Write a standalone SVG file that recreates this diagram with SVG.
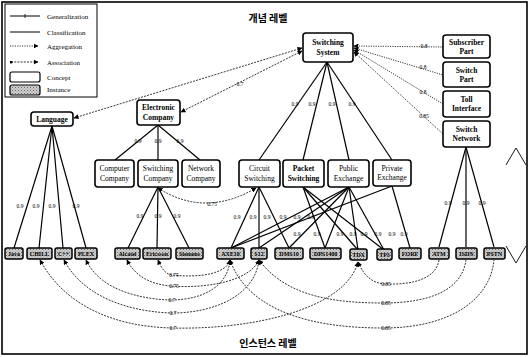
<svg xmlns="http://www.w3.org/2000/svg" width="529" height="357" viewBox="0 0 529 357">
  <defs>
    <pattern id="stipple" width="3" height="3" patternUnits="userSpaceOnUse">
      <rect width="3" height="3" fill="#d0d0d0"/>
      <rect x="0" y="0" width="1" height="1" fill="#666"/>
      <rect x="1.5" y="1.5" width="1" height="1" fill="#888"/>
    </pattern>
    <marker id="arr" viewBox="0 0 10 10" refX="9" refY="5" markerWidth="5" markerHeight="5" orient="auto-start-reverse" markerUnits="userSpaceOnUse">
      <path d="M0,0 L10,5 L0,10 z" fill="#000"/>
    </marker>
    <marker id="dot" viewBox="0 0 10 10" refX="5" refY="5" markerWidth="3" markerHeight="3" markerUnits="userSpaceOnUse">
      <circle cx="5" cy="5" r="5" fill="#000"/>
    </marker>
  </defs>
  <style>
    .frame { fill: none; stroke: #000; stroke-width: 1.6; }
    .concept rect { fill: #fff; stroke: #000; stroke-width: 1.6; }
    .inst rect { fill: url(#stipple); stroke: #000; stroke-width: 1.5; }
    text { font-family: "Liberation Serif", "Times New Roman", serif; fill: #000; text-anchor: middle; }
    .cb { font-size: 7.5px; font-weight: bold; }
    .cr { font-size: 7.5px; }
    .it { font-size: 6px; font-weight: bold; }
    .w { font-size: 5.5px; fill: #000; }
    .lg { font-size: 7px; text-anchor: start; }
    .kr { font-family: "Noto Sans CJK KR", sans-serif; font-size: 10px; font-weight: bold; }
    .gen, .cls { fill: none; stroke: #000; stroke-width: 1.2; }
    .asc { fill: none; stroke: #000; stroke-width: 0.8; stroke-dasharray: 2 1.2; }
    .agg { fill: none; stroke: #000; stroke-width: 0.8; stroke-dasharray: 1.2 1.2; }
  </style>

  <!-- outer frame -->
  <rect class="frame" x="2" y="2" width="525" height="352"/>

  <!-- legend -->
  <g id="legend">
    <rect x="5" y="4" width="92" height="93" fill="#fff" stroke="#000" stroke-width="1"/>
    <line x1="10" y1="16" x2="40" y2="16" stroke="#000" stroke-width="1"/>
    <line x1="25" y1="14" x2="25" y2="18" stroke="#000" stroke-width="0.8"/>
    <text class="lg" x="47" y="18.5">Generalization</text>
    <line x1="10" y1="32" x2="40" y2="32" stroke="#000" stroke-width="1"/>
    <text class="lg" x="47" y="34.5">Classification</text>
    <line x1="10" y1="46" x2="38" y2="46" class="agg" marker-end="url(#arr)"/>
    <text class="lg" x="47" y="48.5">Aggregation</text>
    <line x1="11" y1="62" x2="38" y2="62" class="asc" marker-start="url(#dot)" marker-end="url(#arr)"/>
    <text class="lg" x="47" y="64.5">Association</text>
    <rect x="10" y="72" width="30" height="10" rx="2" fill="#fff" stroke="#000" stroke-width="1.2"/>
    <text class="lg" x="47" y="79.5">Concept</text>
    <rect x="10" y="85" width="30" height="10" rx="2" fill="url(#stipple)" stroke="#000" stroke-width="1.2"/>
    <text class="lg" x="47" y="92">Instance</text>
  </g>

  <!-- level captions -->
  <text class="kr" x="268" y="22">개념 레벨</text>
  <text class="kr" x="268" y="347">인스턴스 레벨</text>
  <polyline points="506,165 516,148 526,165" fill="none" stroke="#000" stroke-width="0.9"/>
  <polyline points="506,246 516,263 526,246" fill="none" stroke="#000" stroke-width="0.9"/>

  <!-- connectors -->
  <g id="connectors">
    <!-- generalization: concept hierarchy -->
    <g class="gen">
      <line x1="52" y1="126" x2="14" y2="248"/>
      <line x1="52" y1="126" x2="39" y2="248"/>
      <line x1="52" y1="126" x2="63" y2="248"/>
      <line x1="52" y1="126" x2="86" y2="248"/>
      <line x1="158" y1="125" x2="115" y2="160"/>
      <line x1="158" y1="125" x2="158" y2="160"/>
      <line x1="158" y1="125" x2="200" y2="160"/>
      <line x1="327" y1="62" x2="259" y2="160"/>
      <line x1="327" y1="62" x2="303" y2="160"/>
      <line x1="327" y1="62" x2="349" y2="160"/>
      <line x1="327" y1="62" x2="392" y2="160"/>
    </g>
    <!-- classification: concept to instance -->
    <g class="cls">
      <line x1="158" y1="187" x2="128" y2="248"/>
      <line x1="158" y1="187" x2="157" y2="248"/>
      <line x1="158" y1="187" x2="189" y2="248"/>
      <line x1="259" y1="187" x2="231" y2="248"/>
      <line x1="259" y1="187" x2="259" y2="248"/>
      <line x1="259" y1="187" x2="289" y2="248"/>
      <line x1="349" y1="187" x2="231" y2="248"/>
      <line x1="349" y1="187" x2="259" y2="248"/>
      <line x1="392" y1="186" x2="231" y2="248"/>
      <line x1="349" y1="187" x2="289" y2="248"/>
      <line x1="303" y1="187" x2="325" y2="248"/>
      <line x1="349" y1="187" x2="325" y2="248"/>
      <line x1="303" y1="187" x2="358" y2="250"/>
      <line x1="349" y1="187" x2="358" y2="250"/>
      <line x1="303" y1="187" x2="384" y2="250"/>
      <line x1="349" y1="187" x2="384" y2="250"/>
      <line x1="392" y1="186" x2="410" y2="248"/>
      <line x1="466" y1="147" x2="439" y2="247"/>
      <line x1="466" y1="147" x2="466" y2="247"/>
      <line x1="466" y1="147" x2="494" y2="247"/>
    </g>
    <!-- association links -->
    <line class="asc" x1="302" y1="48" x2="74" y2="118" marker-start="url(#arr)" marker-end="url(#arr)"/>
    <line class="asc" x1="302" y1="51" x2="181" y2="112" marker-start="url(#arr)" marker-end="url(#arr)"/>
    <path class="asc" d="M158,188 Q205,218 256,188" marker-start="url(#arr)" marker-end="url(#arr)"/>
    <!-- aggregation: parts of the switching system -->
    <line class="agg" x1="354" y1="46" x2="443" y2="47" marker-start="url(#arr)"/>
    <line class="agg" x1="354" y1="48" x2="443" y2="75" marker-start="url(#arr)"/>
    <line class="agg" x1="354" y1="50" x2="443" y2="104" marker-start="url(#arr)"/>
    <line class="agg" x1="354" y1="52" x2="443" y2="134" marker-start="url(#arr)"/>
    <!-- instance-level associations -->
    <path class="asc" d="M158,260 C162,270 166,274 172,275 C200,278 226,274 230,260" marker-start="url(#arr)" marker-end="url(#arr)"/>
    <path class="asc" d="M127,260 C135,276 150,284 170,286 C210,289 250,280 259,260" marker-start="url(#arr)" marker-end="url(#arr)"/>
    <path class="asc" d="M86,260 C100,290 140,299 170,300 C205,300 228,285 230,260" marker-start="url(#arr)" marker-end="url(#arr)"/>
    <path class="asc" d="M64,260 C85,300 135,312 172,313 C215,313 255,295 259,260" marker-start="url(#arr)" marker-end="url(#arr)"/>
    <path class="asc" d="M40,260 C70,315 130,327 172,328 C250,330 345,310 358,262" marker-start="url(#arr)" marker-end="url(#arr)"/>
    <path class="asc" d="M230,260 C250,315 320,328 383,328 C450,328 490,300 494,260" marker-start="url(#arr)"/>
    <path class="asc" d="M259,260 C285,295 330,303 383,303 C430,303 462,290 466,260" marker-start="url(#arr)"/>
    <path class="asc" d="M358,262 C364,276 372,283 385,284 C415,285 436,278 439,260" marker-start="url(#arr)"/>
  </g>

  <!-- weight labels -->
  <g id="weights" class="w">
    <text x="240" y="86">0.7</text>
    <text x="424" y="48">0.8</text>
    <text x="423" y="69">0.8</text>
    <text x="423" y="94">0.8</text>
    <text x="424" y="118">0.85</text>
    <text x="138" y="143">0.9</text>
    <text x="158" y="143">0.9</text>
    <text x="180" y="143">0.9</text>
    <text x="295" y="106">0.9</text>
    <text x="312" y="106">0.9</text>
    <text x="332" y="106">0.9</text>
    <text x="352" y="106">0.9</text>
    <text x="20" y="208">0.9</text>
    <text x="36" y="208">0.9</text>
    <text x="52" y="208">0.9</text>
    <text x="76" y="208">0.9</text>
    <text x="140" y="218">0.9</text>
    <text x="158" y="218">0.9</text>
    <text x="177" y="218">0.9</text>
    <text x="212" y="206">0.75</text>
    <text x="237" y="219">0.9</text>
    <text x="253" y="219">0.9</text>
    <text x="267" y="219">0.9</text>
    <text x="283" y="219">0.9</text>
    <text x="297" y="219">0.9</text>
    <text x="311" y="219">0.9</text>
    <text x="297" y="236">0.9</text>
    <text x="317" y="236">0.9</text>
    <text x="340" y="236">0.9</text>
    <text x="353" y="236">0.9</text>
    <text x="364" y="236">0.9</text>
    <text x="378" y="236">0.9</text>
    <text x="392" y="236">0.9</text>
    <text x="404" y="236">0.9</text>
    <text x="448" y="205">0.9</text>
    <text x="466" y="205">0.9</text>
    <text x="482" y="205">0.9</text>
    <text x="174" y="277">0.75</text>
    <text x="174" y="288">0.75</text>
    <text x="172" y="302">0.7</text>
    <text x="173" y="315">0.7</text>
    <text x="173" y="330">0.7</text>
    <text x="386" y="286">0.85</text>
    <text x="386" y="305">0.85</text>
    <text x="386" y="330">0.85</text>
  </g>

  <!-- concept nodes -->
  <g id="switching-system" class="concept"><rect x="303" y="33" width="50" height="29" rx="3"/><text class="cb" x="328" y="45">Switching</text><text class="cb" x="328" y="55">System</text></g>
  <g id="subscriber-part" class="concept"><rect x="443" y="35" width="47" height="23" rx="3"/><text class="cb" x="466.5" y="45">Subscriber</text><text class="cb" x="466.5" y="54">Part</text></g>
  <g id="switch-part" class="concept"><rect x="443" y="62" width="47" height="25" rx="3"/><text class="cb" x="466.5" y="73">Switch</text><text class="cb" x="466.5" y="82">Part</text></g>
  <g id="toll-interface" class="concept"><rect x="443" y="91" width="47" height="26" rx="3"/><text class="cb" x="466.5" y="102">Toll</text><text class="cb" x="466.5" y="111">Interface</text></g>
  <g id="switch-network" class="concept"><rect x="443" y="121" width="47" height="26" rx="3"/><text class="cb" x="466.5" y="132">Switch</text><text class="cb" x="466.5" y="141">Network</text></g>
  <g id="language" class="concept"><rect x="31" y="112" width="42" height="14" rx="3"/><text class="cb" x="52" y="122">Language</text></g>
  <g id="electronic-company" class="concept"><rect x="137" y="100" width="43" height="25" rx="3"/><text class="cb" x="158.5" y="110">Electronic</text><text class="cb" x="158.5" y="120">Company</text></g>
  <g id="computer-company" class="concept"><rect x="95" y="160" width="39" height="27" rx="3"/><text class="cr" x="114.5" y="171">Computer</text><text class="cr" x="114.5" y="181">Company</text></g>
  <g id="switching-company" class="concept"><rect x="138" y="160" width="40" height="27" rx="3"/><text class="cr" x="158" y="171">Switching</text><text class="cr" x="158" y="181">Company</text></g>
  <g id="network-company" class="concept"><rect x="182" y="160" width="38" height="27" rx="3"/><text class="cr" x="201" y="171">Network</text><text class="cr" x="201" y="181">Company</text></g>
  <g id="circuit-switching" class="concept"><rect x="239" y="160" width="41" height="27" rx="3"/><text class="cr" x="259.5" y="171">Circuit</text><text class="cr" x="259.5" y="181">Switching</text></g>
  <g id="packet-switching" class="concept"><rect x="283" y="160" width="41" height="27" rx="3"/><text class="cb" x="303.5" y="171">Packet</text><text class="cb" x="303.5" y="181">Switching</text></g>
  <g id="public-exchange" class="concept"><rect x="328" y="160" width="41" height="27" rx="3"/><text class="cr" x="348.5" y="171">Public</text><text class="cr" x="348.5" y="181">Exchange</text></g>
  <g id="private-exchange" class="concept"><rect x="373" y="160" width="38" height="26" rx="3"/><text class="cr" x="392" y="171">Private</text><text class="cr" x="392" y="180">Exchange</text></g>

  <!-- instance nodes -->
  <g id="java" class="inst"><rect x="5" y="248" width="18" height="11" rx="2"/><text class="it" x="14" y="256">Java</text></g>
  <g id="chill" class="inst"><rect x="27" y="248" width="25" height="11" rx="2"/><text class="it" x="39.5" y="256">CHILL</text></g>
  <g id="cpp" class="inst"><rect x="55" y="248" width="17" height="11" rx="2"/><text class="it" x="63.5" y="256">C++</text></g>
  <g id="plex" class="inst"><rect x="75" y="248" width="22" height="11" rx="2"/><text class="it" x="86" y="256">PLEX</text></g>
  <g id="alcatel" class="inst"><rect x="115" y="248" width="25" height="11" rx="2"/><text class="it" x="127.5" y="256">Alcatel</text></g>
  <g id="ericsson" class="inst"><rect x="143" y="248" width="28" height="11" rx="2"/><text class="it" x="157" y="256">Ericsson</text></g>
  <g id="siemens" class="inst"><rect x="176" y="248" width="27" height="11" rx="2"/><text class="it" x="189.5" y="256">Siemens</text></g>
  <g id="axe10" class="inst"><rect x="217" y="248" width="27" height="11" rx="2"/><text class="it" x="230.5" y="256">AXE10</text></g>
  <g id="s12" class="inst"><rect x="251" y="248" width="16" height="11" rx="2"/><text class="it" x="259" y="256">S12</text></g>
  <g id="dms10" class="inst"><rect x="275" y="248" width="28" height="11" rx="2"/><text class="it" x="289" y="256">DMS10</text></g>
  <g id="dps1400" class="inst"><rect x="310" y="248" width="31" height="11" rx="2"/><text class="it" x="325.5" y="256">DPS1400</text></g>
  <g id="tdx" class="inst"><rect x="350" y="249" width="17" height="11" rx="2"/><text class="it" x="358.5" y="257">TDX</text></g>
  <g id="tp3" class="inst"><rect x="377" y="249" width="15" height="11" rx="2"/><text class="it" x="384.5" y="257">TP3</text></g>
  <g id="forf" class="inst"><rect x="399" y="248" width="22" height="11" rx="2"/><text class="it" x="410" y="256">FORF</text></g>
  <g id="atm" class="inst"><rect x="429" y="248" width="20" height="11" rx="2"/><text class="it" x="439" y="256">ATM</text></g>
  <g id="isdn" class="inst"><rect x="456" y="248" width="21" height="11" rx="2"/><text class="it" x="466.5" y="256">ISDN</text></g>
  <g id="pstn" class="inst"><rect x="484" y="248" width="21" height="11" rx="2"/><text class="it" x="494.5" y="256">PSTN</text></g>
</svg>
